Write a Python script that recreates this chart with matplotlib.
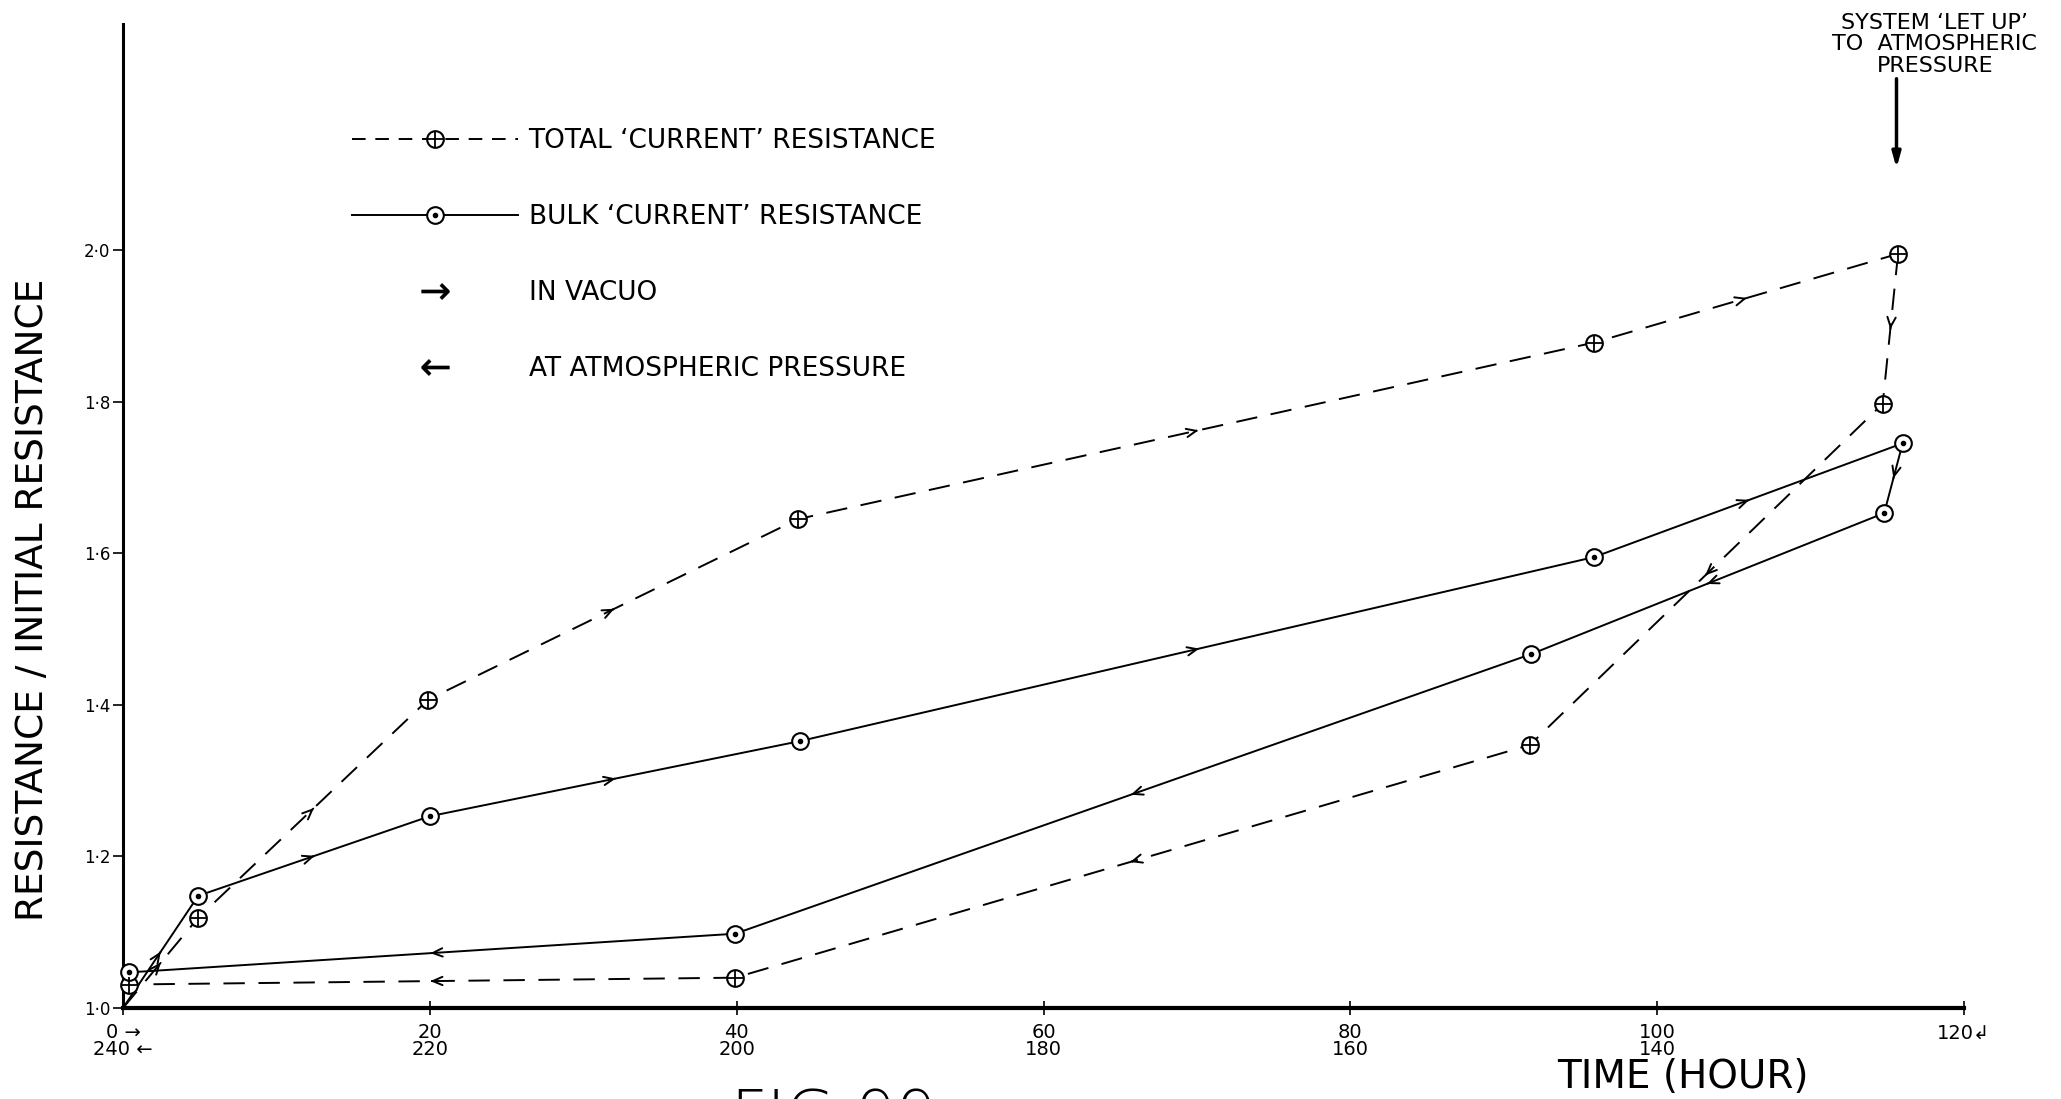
import matplotlib
matplotlib.use("Agg")
import matplotlib.pyplot as plt
from matplotlib.lines import Line2D
from matplotlib.legend_handler import HandlerTuple

plt.rcParams['font.family'] = ['DejaVu Sans']

# ---------------- data ----------------
# x positions use the upper time scale (0..120 h, in vacuo);
# the return run at atmospheric pressure is read on the lower scale (120..240 h)
total_vac_x = [0.0, 4.9, 19.9, 44.0, 95.9, 115.7]
total_vac_y = [1.000, 1.119, 1.407, 1.645, 1.878, 1.995]
total_atm_x = [115.7, 114.7, 91.7, 39.9, 0.4]
total_atm_y = [1.995, 1.797, 1.347, 1.040, 1.031]

bulk_vac_x = [0.0, 4.9, 20.0, 44.1, 95.9, 116.0]
bulk_vac_y = [1.000, 1.148, 1.253, 1.352, 1.595, 1.745]
bulk_atm_x = [116.0, 114.8, 91.8, 39.9, 0.4]
bulk_atm_y = [1.745, 1.653, 1.467, 1.098, 1.047]

x_ticks = [0, 20, 40, 60, 80, 100, 120]
x_tick_labels = ["0 \u2192\n240 \u2190", "20\n220", "40\n200", "60\n180",
                 "80\n160", "100\n140", "120\u21b2\n "]
y_ticks = [1.0, 1.2, 1.4, 1.6, 1.8, 2.0]
y_tick_labels = ["1\u00b70", "1\u00b72", "1\u00b74", "1\u00b76", "1\u00b78", "2\u00b70"]

legend_labels = ["TOTAL \u2018CURRENT\u2019 RESISTANCE",
                 "BULK \u2018CURRENT\u2019 RESISTANCE",
                 "IN VACUO",
                 "AT ATMOSPHERIC PRESSURE"]
note_text = "SYSTEM \u2018LET UP\u2019\nTO  ATMOSPHERIC\nPRESSURE"
note_xy = (115.6, 2.108)

# ---------------- figure ----------------
W, H = 2061, 1099
fig = plt.figure(figsize=(W / 100, H / 100), dpi=100)
ax = fig.add_axes([123 / W, 0.0828, (1964 - 123) / W, 0.978 - 0.0828])
ax.set_xlim(0, 120)
ax.set_ylim(1.0, 2.298)

LW = 1.4
DASH = (0, (11, 7))
MS = 12


def draw_series(xs, ys, ls):
    ax.plot(xs, ys, color='k', lw=LW, ls=ls, zorder=2, solid_capstyle='round')
    # direction arrows at mid-segment
    for i in range(len(xs) - 1):
        x0, y0, x1, y1 = xs[i], ys[i], xs[i + 1], ys[i + 1]
        a, b = 0.5, 0.503
        ax.annotate('', xy=(x0 + b * (x1 - x0), y0 + b * (y1 - y0)),
                    xytext=(x0 + a * (x1 - x0), y0 + a * (y1 - y0)),
                    arrowprops=dict(arrowstyle='->,head_length=0.7,head_width=0.3',
                                    lw=LW, color='k', shrinkA=0, shrinkB=0),
                    zorder=3)


def draw_markers(xs, ys, kind):
    ax.plot(xs, ys, ls='none', marker='o', ms=MS, mfc='white', mec='k', mew=1.5,
            zorder=4, clip_on=False)
    if kind == 'total':
        ax.plot(xs, ys, ls='none', marker='+', ms=MS, mec='k', mew=1.3, zorder=5,
                clip_on=False)
    else:
        ax.plot(xs, ys, ls='none', marker='o', ms=3, mfc='k', mec='k', zorder=5,
                clip_on=False)


draw_series(total_vac_x, total_vac_y, DASH)
draw_series(total_atm_x, total_atm_y, DASH)
draw_series(bulk_vac_x, bulk_vac_y, '-')
draw_series(bulk_atm_x, bulk_atm_y, '-')
draw_markers(total_vac_x[1:], total_vac_y[1:], 'total')
draw_markers(total_atm_x[1:], total_atm_y[1:], 'total')
draw_markers(bulk_vac_x[1:], bulk_vac_y[1:], 'bulk')
draw_markers(bulk_atm_x[1:], bulk_atm_y[1:], 'bulk')

# ---------------- axes styling ----------------
for s in ['top', 'right']:
    ax.spines[s].set_visible(False)
ax.spines['left'].set_linewidth(2.2)
ax.spines['bottom'].set_linewidth(3.0)

ax.set_xticks(x_ticks)
ax.set_xticklabels(x_tick_labels, fontsize=14, linespacing=0.85)
ax.set_yticks(y_ticks)
ax.set_yticklabels(y_tick_labels, fontsize=12)
ax.tick_params(axis='x', direction='inout', length=10, width=1.2, pad=6)
ax.tick_params(axis='y', direction='out', length=7, width=1.2, pad=2)

fig.text(33 / W, 1 - 600 / H, "RESISTANCE / INITIAL RESISTANCE", fontsize=27,
         rotation=90, ha='center', va='center')
fig.text(1683 / W, 1 - 1077 / H, "TIME (HOUR)", fontsize=28, ha='center', va='center')
fig.text(730 / W, 1 - 1087 / H, "FIG.99", fontsize=46, ha='left', va='top',
         fontweight='light')

# ---------------- legend ----------------
h_tot = (Line2D([], [], color='k', lw=LW, ls=(0, (7, 5)), marker='o', ms=MS, mfc='white', mec='k', mew=1.5),
         Line2D([], [], ls='none', marker='+', ms=MS, mec='k', mew=1.3))
h_blk = (Line2D([], [], color='k', lw=LW, ls='-', marker='o', ms=MS, mfc='white', mec='k', mew=1.5),
         Line2D([], [], ls='none', marker='o', ms=3, mfc='k', mec='k'))
h_vac = Line2D([], [], ls='none', marker=r'$\rightarrow$', ms=20, color='k', mew=0.3)
h_atm = Line2D([], [], ls='none', marker=r'$\leftarrow$', ms=20, color='k', mew=0.3)
leg = ax.legend([h_tot, h_blk, h_vac, h_atm], legend_labels,
                handler_map={tuple: HandlerTuple(ndivide=1, pad=0)},
                loc='upper left', bbox_to_anchor=(328 / W, 1 - 104 / H),
                bbox_transform=fig.transFigure, frameon=False, fontsize=19,
                handlelength=6.3, handletextpad=0.4, labelspacing=1.9)

# ---------------- annotation ----------------
ax.annotate('', xy=note_xy, xytext=(note_xy[0], 2.226),
            arrowprops=dict(arrowstyle='-|>,head_length=0.9,head_width=0.25',
                            lw=2.5, color='k', shrinkA=0, shrinkB=0),
            annotation_clip=False)
ax.text(118.1, 2.313, note_text, ha='center', va='top', fontsize=16,
        linespacing=1.1, clip_on=False)

fig.savefig("out.png", dpi=100)
